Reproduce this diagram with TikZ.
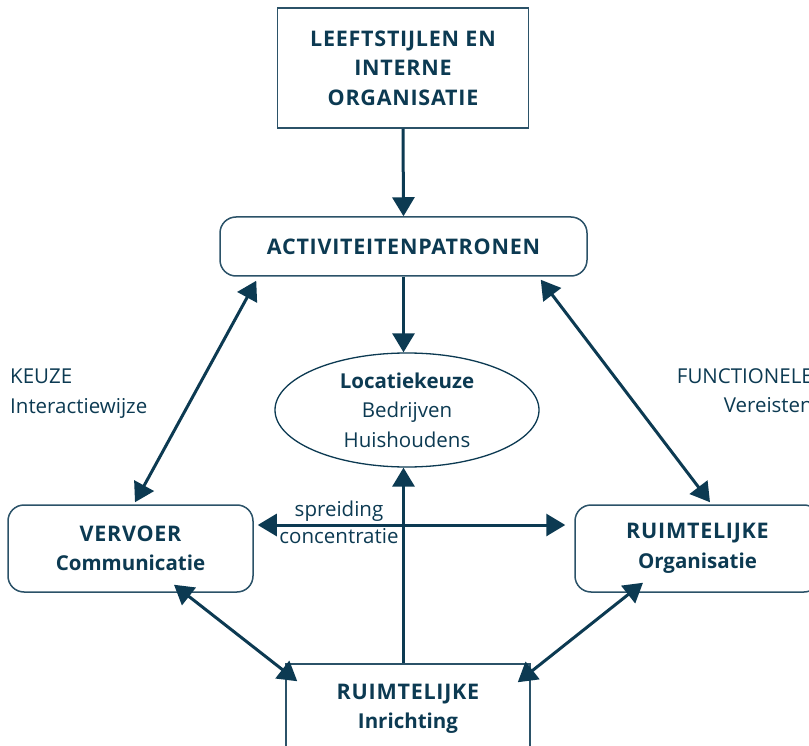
\documentclass[tikz,border=0pt]{standalone}
\usepackage{fontspec}
\setmainfont{Open Sans}
\usetikzlibrary{arrows.meta,shapes.geometric,calc}
\definecolor{ink}{HTML}{0C3A52}
\definecolor{frame}{HTML}{2B5268}
% wide, slightly tracked bold capitals for the box headings
\newcommand\capsset{\fontsize{21.5}{29.5}\selectfont\addfontfeatures{LetterSpace=3.5}}
\begin{document}
\begin{tikzpicture}[x=1pt,y=-1pt,
  txt/.style={text=ink,font=\fontsize{20.5}{29.5}\selectfont,align=center,inner sep=0pt},
  head/.style={txt,font=\fontsize{20.5}{29.5}\selectfont\bfseries},
  sqbox/.style={head,draw=frame,line width=1.5pt,fill=white},
  rbox/.style={sqbox,rounded corners=16pt},
  capsbox/.style={font=\bfseries\capsset},
  link/.style={draw=ink,line width=3pt},
  tip/.style={-{Triangle[length=19pt,width=22pt]}},
  both/.style={{Triangle[length=19pt,width=22pt]}-{Triangle[length=19pt,width=22pt]}},
]
\useasboundingbox (0,0) rectangle (809,746);
\clip (0,0) rectangle (809,746);

% boxes
\node[sqbox,capsbox,minimum width=251pt,minimum height=120pt] (life) at (403,68)
  {LEEFTSTIJLEN EN\\INTERNE\\ORGANISATIE};
\node[rbox,capsbox,minimum width=367pt,minimum height=59pt] (act) at (403.5,246.5)
  {ACTIVITEITENPATRONEN};
\node[ellipse,draw=ink,line width=1.3pt,fill=white,minimum width=264pt,minimum height=114pt,txt] (loc) at (407,410)
  {\textbf{Locatiekeuze}\\Bedrijven\\Huishoudens};
\node[rbox,minimum width=245pt,minimum height=87pt] (verv) at (130.5,548.5)
  {{\capsset VERVOER}\\Communicatie};
\node[rbox,minimum width=245pt,minimum height=87pt] (org) at (697.5,548.5)
  {{\capsset RUIMTELIJKE}\\Organisatie};
\node[sqbox,minimum width=244pt,minimum height=90pt] (inr) at (408,709)
  {{\capsset RUIMTELIJKE}\\Inrichting};

% side labels
\node[txt,align=left,anchor=north west] (keuze) at (10,369) {KEUZE\\Interactiewijze};
\node[txt,align=right,anchor=north east] (func) at (813,368) {FUNCTIONELE\\Vereisten};

% flows
\draw[link,tip] (life.south) -- (act.north);
\draw[link,tip] (act.south) -- (act.south |- loc.north);
\draw[link,tip] (act.south |- inr.north) -- (act.south |- loc.south);

\coordinate (hl) at ($(verv.east)+(4,-23.5)$);
\coordinate (hr) at ($(org.west)+(-9,-23.5)$);
\draw[link,both] (hl) -- (hr);
\node[txt,anchor=base] (spr) at (339,516) {spreiding};
\node[txt,anchor=base] (conc) at (339,543) {concentratie};

\coordinate (a1) at ($(act.south west)+(37,4)$);
\coordinate (a2) at ($(verv.north)+(4.5,-2)$);
\draw[link,both] (a1) -- (a2);
\coordinate (b1) at ($(act.south east)+(-47,3)$);
\coordinate (b2) at ($(org.north)+(12.5,-2)$);
\draw[link,both] (b1) -- (b2);
\coordinate (c1) at ($(verv.south)+(43.5,-8)$);
\coordinate (c2) at ($(inr.north west)+(12,18)$);
\draw[link,both] (c1) -- (c2);
\coordinate (d1) at ($(org.south)+(-54.5,-10)$);
\coordinate (d2) at ($(inr.north east)+(-13,19)$);
\draw[link,both] (d1) -- (d2);
\end{tikzpicture}
\end{document}
